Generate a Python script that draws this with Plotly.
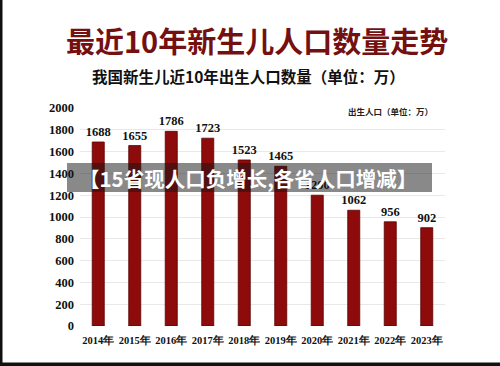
import plotly.graph_objects as go

years = ["2014年", "2015年", "2016年", "2017年", "2018年", "2019年", "2020年", "2021年", "2022年", "2023年"]
births = [1688, 1655, 1786, 1723, 1523, 1465, 1200, 1062, 956, 902]
y_ticks = [0, 200, 400, 600, 800, 1000, 1200, 1400, 1600, 1800, 2000]

title_text = "最近10年新生儿人口数量走势"
subtitle_text = "我国新生儿近10年出生人口数量（单位：万）"
legend_text = "出生人口（单位：万）"
banner_text = "【15省现人口负增长,各省人口增减】"

W, H = 500, 366
L, R, T, B = 80, 55, 108, 40
PW = W - L - R
PH = H - T - B

def px(x):
    return (x - L) / PW

def py(y):
    return (H - B - y) / PH

serif = "Liberation Serif"
cjk = "Noto Sans CJK SC"

fig = go.Figure()
fig.add_trace(go.Bar(
    x=years, y=births,
    width=0.33,
    marker=dict(color="#8e0b0b", line=dict(color="#5c0000", width=0.8)),
    text=[str(v) for v in births],
    textposition="outside",
    constraintext="none",
    textfont=dict(family=serif, size=12.5, color="#111111", weight="bold"),
    cliponaxis=False,
    hoverinfo="skip",
))

fig.update_layout(
    width=W, height=H,
    margin=dict(l=L, r=R, t=T, b=B, autoexpand=False),
    paper_bgcolor="white",
    plot_bgcolor="white",
    showlegend=False,
    xaxis=dict(
        type="category", showgrid=False, showline=False, zeroline=False,
        tickfont=dict(family=serif, size=10.5, color="#111111", weight="bold"),
        ticks="", ticklabelstandoff=6, tickangle=0, automargin=False,
    ),
    yaxis=dict(
        range=[0, 2000], tickvals=y_ticks, showgrid=True, gridcolor="#e8e8e8",
        gridwidth=1, zeroline=False, showline=False, ticks="",
        tickfont=dict(family=serif, size=12.5, color="#111111", weight="bold"),
        ticklabelstandoff=5, automargin=False,
    ),
)

annotations = [
    dict(text="<b>" + title_text + "</b>", x=px(257), y=py(40), xref="paper", yref="paper",
         showarrow=False, xanchor="center", yanchor="middle",
         font=dict(family=cjk, size=29, color="#741010")),
    dict(text="<b>" + subtitle_text + "</b>", x=px(248), y=py(76), xref="paper", yref="paper",
         showarrow=False, xanchor="center", yanchor="middle",
         font=dict(family=cjk, size=15.5, color="#111111")),
    dict(text="<b>" + legend_text + "</b>", x=px(390), y=py(111), xref="paper", yref="paper",
         showarrow=False, xanchor="center", yanchor="middle",
         font=dict(family=cjk, size=8.5, color="#222222")),
    dict(text="<b>" + banner_text + "</b>", x=px(248), y=py(178), xref="paper", yref="paper",
         showarrow=False, xanchor="center", yanchor="middle",
         font=dict(family=cjk, size=20.5, color="white")),
]
fig.update_layout(annotations=annotations)

shapes = [
    dict(type="rect", xref="paper", yref="paper", x0=px(67), x1=px(432), y0=py(192), y1=py(163),
         fillcolor="rgba(20,20,20,0.5)", line=dict(width=0), layer="above"),
    dict(type="rect", xref="paper", yref="paper", x0=px(0), x1=px(2.5), y0=py(366), y1=py(0),
         fillcolor="#111111", line=dict(width=0), layer="above"),
    dict(type="rect", xref="paper", yref="paper", x0=px(0), x1=px(500), y0=py(366), y1=py(362.5),
         fillcolor="#111111", line=dict(width=0), layer="above"),
]
fig.update_layout(shapes=shapes)

fig.write_html("out.html")
